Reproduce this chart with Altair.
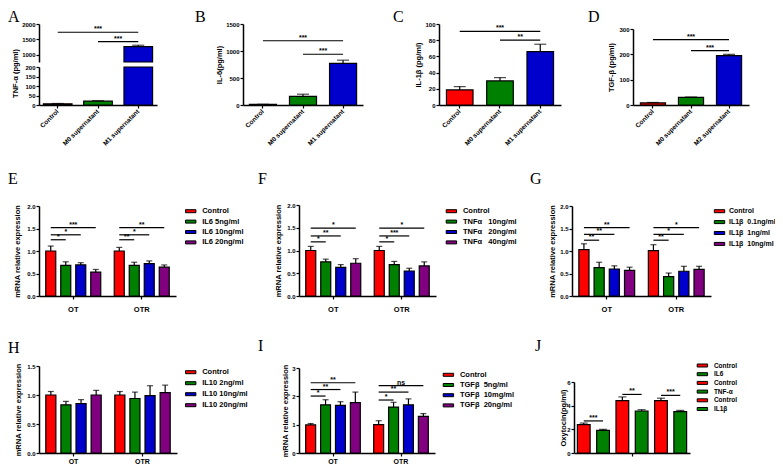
import altair as alt
import pandas as pd

FONT = "Liberation Sans"
SERIF = "Liberation Serif"
RED, GREEN, BLUE, PURPLE = "#FF0000", "#008000", "#0000CD", "#800080"
NB = "\u00a0"
VIEW_W, VIEW_H = 767, 457

# ---------------- data ----------------
A_cats = ["Control", "M0 supernatant", "M1 supernatant"]
A_mean = [6, 20, 1260]
A_err = [2, 3, 45]
A_sig_from = ["Control", "M0 supernatant"]
A_sig_to = ["M1 supernatant", "M1 supernatant"]
A_sig_y = [1730, 1420]
A_sig_lab = ["***", "***"]
A_upper_ticks = [1000, 1500, 2000]
A_lower_ticks = [0, 50, 100, 150, 200]

B_cats = ["Control", "M0 supernatant", "M1 supernatant"]
B_mean = [10, 160, 770]
B_err = [3, 40, 60]
B_sig_from = ["Control", "M0 supernatant"]
B_sig_to = ["M1 supernatant", "M1 supernatant"]
B_sig_y = [1190, 940]
B_sig_lab = ["***", "***"]
B_ticks = [0, 500, 1000, 1500]

C_cats = ["Control", "M0 supernatant", "M1 supernatant"]
C_mean = [18.6, 29.7, 66]
C_err = [4.1, 4.1, 9]
C_sig_from = ["Control", "M0 supernatant"]
C_sig_to = ["M1 supernatant", "M1 supernatant"]
C_sig_y = [91, 80]
C_sig_lab = ["***", "**"]
C_ticks = [0, 20, 40, 60, 80, 100]

D_cats = ["Control", "M0 supernatant", "M2 supernatant"]
D_mean = [8, 30, 195]
D_err = [2, 1.5, 5]
D_sig_from = ["Control", "M0 supernatant"]
D_sig_to = ["M2 supernatant", "M2 supernatant"]
D_sig_y = [258, 215]
D_sig_lab = ["***", "***"]
D_ticks = [0, 100, 200, 300]

GROUPS = ["OT", "OTR"]

E_series = ["Control", "IL6 5ng/ml", "IL6 10ng/ml", "IL6 20ng/ml"]
E_mean_OT = [1.00, 0.68, 0.69, 0.53]
E_err_OT = [0.11, 0.08, 0.05, 0.06]
E_mean_OTR = [1.00, 0.68, 0.72, 0.64]
E_err_OTR = [0.08, 0.07, 0.06, 0.05]
E_sig_group = ["OT", "OT", "OT", "OTR", "OTR", "OTR"]
E_sig_from = ["Control"] * 6
E_sig_to = E_series[1:] * 2
E_sig_y = [1.25, 1.36, 1.52, 1.25, 1.36, 1.52]
E_sig_lab = ["*", "*", "***", "**", "*", "**"]

F_series = ["Control", "TNFα" + NB * 3 + "10ng/ml", "TNFα" + NB * 3 + "20ng/ml", "TNFα" + NB * 3 + "40ng/ml"]
F_mean_OT = [1.00, 0.75, 0.63, 0.72]
F_err_OT = [0.09, 0.06, 0.06, 0.10]
F_mean_OTR = [1.00, 0.69, 0.55, 0.66]
F_err_OTR = [0.09, 0.07, 0.06, 0.09]
F_sig_group = ["OT", "OT", "OT", "OTR", "OTR", "OTR"]
F_sig_from = ["Control"] * 6
F_sig_to = F_series[1:] * 2
F_sig_y = [1.19, 1.32, 1.49, 1.19, 1.32, 1.49]
F_sig_lab = ["*", "**", "*", "*", "***", "*"]

G_series = ["Control", "IL1β" + NB * 2 + "0.1ng/ml", "IL1β" + NB * 2 + "1ng/ml", "IL1β" + NB * 2 + "10ng/ml"]
G_mean_OT = [1.03, 0.63, 0.60, 0.57]
G_err_OT = [0.13, 0.12, 0.07, 0.07]
G_mean_OTR = [1.01, 0.43, 0.55, 0.59]
G_err_OTR = [0.13, 0.08, 0.11, 0.07]
G_sig_group = ["OT", "OT", "OT", "OTR", "OTR", "OTR"]
G_sig_from = ["Control"] * 6
G_sig_to = G_series[1:] * 2
G_sig_y = [1.24, 1.37, 1.52, 1.24, 1.37, 1.52]
G_sig_lab = ["**", "**", "**", "**", "*", "*"]

H_series = ["Control", "IL10 2ng/ml", "IL10 10ng/ml", "IL10 20ng/ml"]
H_mean_OT = [1.00, 0.83, 0.85, 1.00]
H_err_OT = [0.06, 0.06, 0.07, 0.08]
H_mean_OTR = [1.00, 0.94, 0.99, 1.04]
H_err_OTR = [0.06, 0.11, 0.17, 0.13]

I_series = ["Control", "TGFβ" + NB * 2 + "5ng/ml", "TGFβ" + NB * 2 + "10mg/ml", "TGFβ" + NB * 2 + "20ng/ml"]
I_mean_OT = [0.99, 1.70, 1.68, 1.78]
I_err_OT = [0.05, 0.18, 0.13, 0.37]
I_mean_OTR = [1.00, 1.62, 1.70, 1.29]
I_err_OTR = [0.14, 0.17, 0.21, 0.10]
I_sig_group = ["OT", "OT", "OT", "OTR", "OTR", "OTR"]
I_sig_from = ["Control"] * 6
I_sig_to = I_series[1:] * 2
I_sig_y = [2.01, 2.24, 2.48, 1.87, 2.15, 2.38]
I_sig_lab = ["*", "**", "**", "*", "**", "ns"]

J_series = ["Control", "IL6", "Control ", "TNF-α", "Control  ", "IL1β"]
J_mean = [2.39, 1.92, 4.42, 3.55, 4.42, 3.50]
J_err = [0.14, 0.08, 0.32, 0.11, 0.21, 0.10]
J_sig_group = ["all", "all", "all"]
J_sig_from = ["Control", "Control ", "Control  "]
J_sig_to = ["IL6", "TNF-α", "IL1β"]
J_sig_y = [2.71, 4.95, 4.87]
J_sig_lab = ["***", "**", "***"]

SYM = "M-1.3,-0.375H1.3V0.375H-1.3Z"


# ---------------- helpers ----------------
def y_axis(values, fmt, x0, title=None, tx=0, ty=0):
    kw = dict(values=values, format=fmt, orient="left", offset=-x0,
              labelFontSize=6, labelPadding=1, labelOverlap=False)
    if title:
        kw.update(title=title, titleFontSize=7.5, titleX=tx, titleY=ty,
                  titleAngle=270, titleAlign="center", titleBaseline="bottom")
    else:
        kw["title"] = None
    return alt.Axis(**kw)


def cat_x_axis(ybot):
    return alt.Axis(title=None, orient="bottom", offset=ybot - VIEW_H,
                    labelAngle=315, labelAlign="right", labelBaseline="middle",
                    labelFontSize=6.5, labelPadding=2)


def grp_x_axis(ybot, labels=True, pad=6, fs=7.5):
    return alt.Axis(title=None, orient="bottom", offset=ybot - VIEW_H,
                    labelAngle=0, labelFontSize=fs, labelPadding=pad, labels=labels)


def letter_layer(letter, lx, ly):
    return alt.Chart(pd.DataFrame({"t": [letter]})).mark_text(
        align="left", baseline="top", font=SERIF, fontSize=16, color="black"
    ).encode(x=alt.value(lx), y=alt.value(ly), text="t:N")


def star_layers(df, X, Y, step, extra=None):
    layers = []
    for sp in sorted(set(df["span"])):
        enc = dict(x=X(), y=Y("y:Q"), text="lab:N")
        if extra:
            enc["xOffset"] = extra()
        layers.append(
            alt.Chart(df).transform_filter(f"datum.span == {sp}").mark_text(
                dx=sp * step / 2, dy=-1, baseline="alphabetic", font=FONT,
                fontSize=7, fontWeight="bold", color="black"
            ).encode(**enc)
        )
    return layers


def cat_layers(cats, colors, mean, err, X, Y, ydom, cap, filt=None, shown=None):
    df = pd.DataFrame({"cat": cats, "mean": mean,
                       "top": [m + e for m, e in zip(mean, err)]})
    base = alt.Chart(df)
    bar_base, err_base, yfield = base, base, "mean:Q"
    if filt:
        bar_base = base.transform_filter(filt)
        err_base = base.transform_filter(filt)
    if shown:
        bar_base = base.transform_calculate(shown=shown)
        yfield = "shown:Q"
        err_base = base.transform_filter(f"datum.top <= {ydom[1]}")
    return [
        bar_base.mark_bar(stroke="black", strokeWidth=1.2).encode(
            x=X(), y=Y(yfield), y2=alt.Y2Datum(ydom[0]),
            fill=alt.Fill("cat:N", scale=alt.Scale(domain=cats, range=colors), legend=None)),
        err_base.mark_rule(color="black", strokeWidth=1.2).encode(
            x=X(), y=Y("mean:Q"), y2="top:Q"),
        err_base.mark_tick(color="black", thickness=1.2, size=cap, orient="horizontal").encode(
            x=X(), y=Y("top:Q")),
    ]


def cat_sig(cats, sfrom, sto, sy, slab, X, Y, step):
    line_rows, txt_rows = [], []
    for i, (a, b, y, t) in enumerate(zip(sfrom, sto, sy, slab)):
        line_rows += [{"id": i, "cat": a, "y": y}, {"id": i, "cat": b, "y": y}]
        txt_rows.append({"cat": a, "y": y, "lab": t, "span": cats.index(b) - cats.index(a)})
    layers = [alt.Chart(pd.DataFrame(line_rows)).mark_line(color="black", strokeWidth=1.2).encode(
        x=X(), y=Y("y:Q"), detail="id:N")]
    layers += star_layers(pd.DataFrame(txt_rows), X, Y, step)
    return layers


def cat_panel(cats, mean, err, sfrom, sto, sy, slab, xr, yr, ydom, yvals,
              ytitle, tx, letter, lx, ly, pi, po, cap=12):
    colors = [RED, GREEN, BLUE]
    xs = alt.Scale(domain=cats, range=xr, paddingInner=pi, paddingOuter=po)
    xax = cat_x_axis(yr[0])
    X = lambda: alt.X("cat:N", scale=xs, axis=xax)
    ys = alt.Scale(domain=ydom, range=yr, nice=False, zero=False)
    yax = y_axis(yvals, "d", xr[0], ytitle, tx, (yr[0] + yr[1]) / 2)
    Y = lambda f: alt.Y(f, scale=ys, axis=yax)
    step = (xr[1] - xr[0]) / (len(cats) - pi + 2 * po)
    layers = cat_layers(cats, colors, mean, err, X, Y, ydom, cap)
    layers += cat_sig(cats, sfrom, sto, sy, slab, X, Y, step)
    layers.append(letter_layer(letter, lx, ly))
    return alt.layer(*layers)


def grp_panel(groups, series, colors, means, errs, sig, xr, yr, ydom, yvals,
              yfmt, tx, letter, lx, ly, legX, legY, legFont, legPad,
              pio, poo, cap=6, xlabels=True, ytitle="mRNA relative expression",
              lpad=6, lfs=7.5, legOff=7):
    rows = []
    for g, ms, es in zip(groups, means, errs):
        for s, m, e in zip(series, ms, es):
            rows.append({"group": g, "series": s, "mean": m, "top": m + e})
    df = pd.DataFrame(rows)
    xs = alt.Scale(domain=groups, range=xr, paddingInner=0, paddingOuter=0)
    osc = alt.Scale(domain=series, paddingInner=pio, paddingOuter=poo)
    xax = grp_x_axis(yr[0], xlabels, lpad, lfs)
    X = lambda: alt.X("group:N", scale=xs, axis=xax)
    XO = lambda: alt.XOffset("series:N", scale=osc)
    ys = alt.Scale(domain=ydom, range=yr, nice=False, zero=False)
    yax = y_axis(yvals, yfmt, xr[0], ytitle, tx, (yr[0] + yr[1]) / 2)
    Y = lambda f: alt.Y(f, scale=ys, axis=yax)
    pitch = ((xr[1] - xr[0]) / len(groups)) / (len(series) - pio + 2 * poo)
    legend = alt.Legend(orient="none", legendX=legX, legendY=legY, title=None,
                        padding=0, labelFontSize=legFont, labelOffset=legOff,
                        labelLimit=300, symbolType=SYM, symbolSize=64,
                        symbolStrokeColor="black", symbolStrokeWidth=1,
                        rowPadding=legPad)
    base = alt.Chart(df)
    layers = [
        base.mark_bar(stroke="black", strokeWidth=1.2).encode(
            x=X(), xOffset=XO(), y=Y("mean:Q"), y2=alt.Y2Datum(0),
            fill=alt.Fill("series:N", scale=alt.Scale(domain=series, range=colors),
                          legend=legend)),
        base.mark_rule(color="black", strokeWidth=1.2).encode(
            x=X(), xOffset=XO(), y=Y("mean:Q"), y2="top:Q"),
        base.mark_tick(color="black", thickness=1.2, size=cap, orient="horizontal").encode(
            x=X(), xOffset=XO(), y=Y("top:Q")),
    ]
    if sig:
        sg, sf, st, sy, sl = sig
        line_rows, txt_rows = [], []
        for i, (g, a, b, y, t) in enumerate(zip(sg, sf, st, sy, sl)):
            line_rows += [{"id": i, "group": g, "series": a, "y": y},
                          {"id": i, "group": g, "series": b, "y": y}]
            txt_rows.append({"group": g, "series": a, "y": y, "lab": t,
                             "span": series.index(b) - series.index(a)})
        layers.append(alt.Chart(pd.DataFrame(line_rows)).mark_line(color="black", strokeWidth=1.2).encode(
            x=X(), xOffset=XO(), y=Y("y:Q"), detail="id:N"))
        layers += star_layers(pd.DataFrame(txt_rows), X, Y, pitch, extra=XO)
    layers.append(letter_layer(letter, lx, ly))
    return alt.layer(*layers)


# ---------------- Panel A (broken y axis) ----------------
A_xr = [31, 149]
A_pi, A_po = 0.29, 0.11
A_xs = alt.Scale(domain=A_cats, range=A_xr, paddingInner=A_pi, paddingOuter=A_po)
A_xax = cat_x_axis(97)
AX = lambda: alt.X("cat:N", scale=A_xs, axis=A_xax)
A_up_dom = [756, 2000]
A_lo_dom = [0, 200]
A_ys_up = alt.Scale(domain=A_up_dom, range=[54, 16], nice=False, zero=False)
A_ys_lo = alt.Scale(domain=A_lo_dom, range=[97, 59], nice=False, zero=False)
A_yax_up = y_axis(A_upper_ticks, "d", A_xr[0])
A_yax_lo = y_axis(A_lower_ticks, "d", A_xr[0], "TNF-α (pg/ml)", -20, 65)
AYu = lambda f: alt.Y(f, scale=A_ys_up, axis=A_yax_up)
AYl = lambda f: alt.Y(f, scale=A_ys_lo, axis=A_yax_lo)
A_step = (A_xr[1] - A_xr[0]) / (3 - A_pi + 2 * A_po)
A_upper = cat_layers(A_cats, [RED, GREEN, BLUE], A_mean, A_err, AX, AYu,
                     A_up_dom, 12, filt=f"datum.mean >= {A_up_dom[0]}")
A_upper += cat_sig(A_cats, A_sig_from, A_sig_to, A_sig_y, A_sig_lab, AX, AYu, A_step)
A_lower = cat_layers(A_cats, [RED, GREEN, BLUE], A_mean, A_err, AX, AYl,
                     A_lo_dom, 12, shown=f"min(datum.mean, {A_lo_dom[1]})")
A = alt.layer(alt.layer(*A_upper), alt.layer(*A_lower), letter_layer("A", 0, 1)
              ).resolve_scale(y="independent").resolve_axis(y="independent")

B = cat_panel(B_cats, B_mean, B_err, B_sig_from, B_sig_to, B_sig_y, B_sig_lab,
              [235, 355], [97, 16], [0, 1500], B_ticks, "IL-6(pg/ml)", -20,
              "B", 187, 1, 0.325, 0.16)
C = cat_panel(C_cats, C_mean, C_err, C_sig_from, C_sig_to, C_sig_y, C_sig_lab,
              [431, 553], [97, 16], [0, 100], C_ticks, "IL-1β (pg/ml)", -17,
              "C", 385, 1, 0.34, 0.185)
D = cat_panel(D_cats, D_mean, D_err, D_sig_from, D_sig_to, D_sig_y, D_sig_lab,
              [625, 741], [97, 21], [0, 300], D_ticks, "TGF-β (pg/ml)", -18,
              "D", 580, 1, 0.34, 0.195)

C4 = [RED, GREEN, BLUE, PURPLE]
E = grp_panel(GROUPS, E_series, C4, [E_mean_OT, E_mean_OTR], [E_err_OT, E_err_OTR],
              (E_sig_group, E_sig_from, E_sig_to, E_sig_y, E_sig_lab),
              [31, 168], [288, 198], [0, 2], [0, 0.5, 1, 1.5, 2], ".1f", -18,
              "E", 0, 163, 178.2, 198.7, 7.5, 2.4, 0.333, 0.45)
F = grp_panel(GROUPS, F_series, C4, [F_mean_OT, F_mean_OTR], [F_err_OT, F_err_OTR],
              (F_sig_group, F_sig_from, F_sig_to, F_sig_y, F_sig_lab),
              [291, 428], [288, 197], [0, 2], [0, 0.5, 1, 1.5, 2], ".1f", -17,
              "F", 250, 163, 438.9, 198.7, 7.5, 2.4, 0.333, 0.45)
G = grp_panel(GROUPS, G_series, C4, [G_mean_OT, G_mean_OTR], [G_err_OT, G_err_OTR],
              (G_sig_group, G_sig_from, G_sig_to, G_sig_y, G_sig_lab),
              [564, 703], [288, 198], [0, 2], [0, 0.5, 1, 1.5, 2], ".1f", -16,
              "G", 522, 163, 707, 198.7, 7, 2.9, 0.333, 0.45, legOff=5)
H = grp_panel(GROUPS, H_series, C4, [H_mean_OT, H_mean_OTR], [H_err_OT, H_err_OTR],
              None, [31, 169], [445, 358], [0, 1.5], [0, 0.5, 1, 1.5], ".1f", -17,
              "H", 0, 332, 178.2, 359.7, 7.5, 3, 0.333, 0.45, lpad=1, lfs=7)
I = grp_panel(GROUPS, I_series, C4, [I_mean_OT, I_mean_OTR], [I_err_OT, I_err_OTR],
              (I_sig_group, I_sig_from, I_sig_to, I_sig_y, I_sig_lab),
              [291, 427], [445, 360], [0, 3], [0, 1, 2, 3], "d", -10,
              "I", 250, 330, 435.9, 362.3, 7.5, 2.2, 0.333, 0.45, lpad=1, lfs=7)
J = grp_panel(["all"], J_series, [RED, GREEN] * 3, [J_mean], [J_err],
              (J_sig_group, J_sig_from, J_sig_to, J_sig_y, J_sig_lab),
              [566, 682], [445, 374], [0, 6], [0, 2, 4, 6], "d", -7,
              "J", 527, 330, 689.9, 353, 6.5, 0.7, 0.34, 0.175, cap=8,
              xlabels=False, ytitle="Oxytocin(pg/ml)")

chart = alt.layer(A, B, C, D, E, F, G, H, I, J).resolve_scale(
    x="independent", y="independent", xOffset="independent", fill="independent"
).resolve_axis(x="independent", y="independent").resolve_legend(
    fill="independent"
).properties(
    width=VIEW_W, height=VIEW_H, padding=0,
    autosize=alt.AutoSizeParams(type="none")
).configure_view(stroke=None).configure_axis(
    grid=False, domainColor="black", domainWidth=1.5, tickColor="black",
    tickWidth=1.2, tickSize=3, labelFont=FONT, labelFontWeight="bold",
    labelColor="black", titleFont=FONT, titleFontWeight="bold", titleColor="black"
).configure_legend(
    labelFont=FONT, labelFontWeight="bold", labelColor="black"
)

chart.save("out.html", embed_options={"renderer": "svg", "actions": False})
